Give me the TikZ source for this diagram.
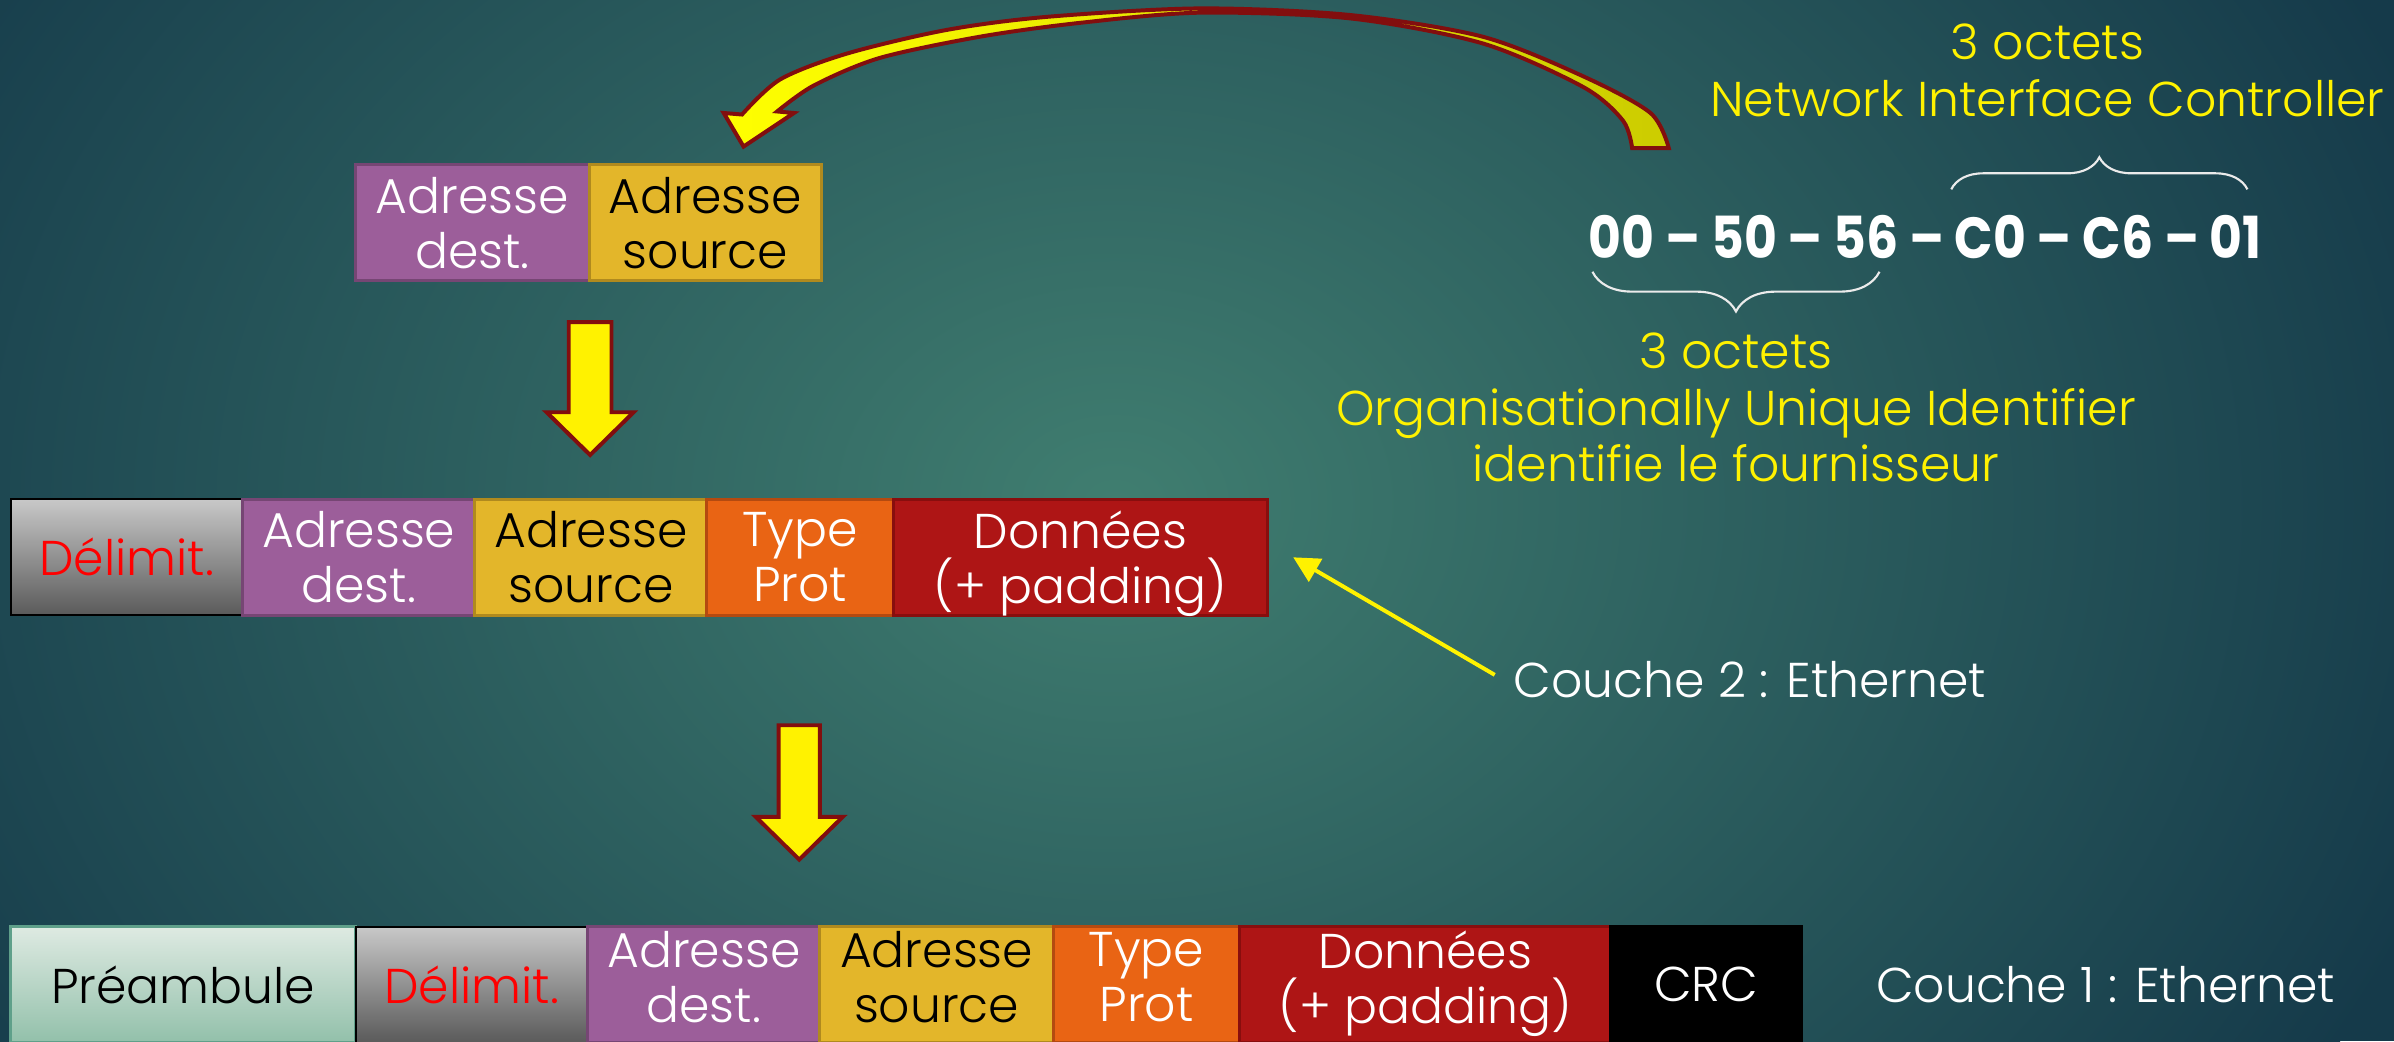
\documentclass[tikz,border=0pt]{standalone}
\usepackage{fontspec}
\setmainfont{Poppins Light}
\newfontfamily\macfont{Poppins}[FakeStretch=0.87]
\usetikzlibrary{arrows.meta,decorations.pathreplacing}
\definecolor{bgin}{RGB}{64,126,112}
\definecolor{bgout}{RGB}{21,58,74}
\definecolor{purp}{RGB}{156,94,154}
\definecolor{purpd}{RGB}{118,70,116}
\definecolor{gold}{RGB}{227,182,42}
\definecolor{goldd}{RGB}{176,138,30}
\definecolor{orng}{RGB}{233,100,20}
\definecolor{orngd}{RGB}{180,74,16}
\definecolor{dred}{RGB}{174,21,21}
\definecolor{dredd}{RGB}{136,14,14}
\definecolor{arrred}{RGB}{130,14,14}
\definecolor{olivey}{RGB}{204,204,0}
\definecolor{mintt}{RGB}{222,234,226}
\definecolor{mintb}{RGB}{146,192,170}
\definecolor{mintd}{RGB}{95,160,138}
\definecolor{greyt}{RGB}{200,200,200}
\definecolor{greyb}{RGB}{90,90,90}
\definecolor{bracecol}{RGB}{235,235,235}
\tikzset{
  cell/.style={inner sep=0pt, minimum height=38pt, align=center, line width=1pt,
    font=\fontsize{16}{18}\selectfont},
  twoline/.style={text depth=0pt},
  lowtwoline/.style={text depth=5pt},
  purpcell/.style={cell, fill=purp, draw=purpd, text=white},
  goldcell/.style={cell, fill=gold, draw=goldd, text=black},
  orngcell/.style={cell, fill=orng, draw=orngd, text=white},
  redcell/.style={cell, fill=dred, draw=dredd, text=white},
  delimcell/.style={cell, top color=greyt, bottom color=greyb, draw=black, line width=0.6pt, text=red},
  precell/.style={cell, top color=mintt, bottom color=mintb, draw=mintd, text=black},
  crccell/.style={cell, fill=black, draw=black, text=white},
  lbl/.style={inner sep=0pt, text=white, font=\fontsize{16}{18}\selectfont},
  ytext/.style={inner sep=0pt, text=yellow, align=center, font=\fontsize{16}{18.5}\selectfont},
  blockarr/.style={fill=yellow, draw=arrred, line width=1.3pt, line join=miter},
  yarrow/.style={draw=yellow, line width=1.3pt, -{Triangle[length=8.5pt,width=8.5pt]}},
  bracestyle/.style={draw=bracecol, line width=0.7pt, decorate},
}
\begin{document}
\begin{tikzpicture}[x=0.5pt,y=-0.5pt]
\useasboundingbox (0,0) rectangle (1568,682);
\clip (0,0) rectangle (1568,682);
% background
\fill[bgout] (0,0) rectangle (1568,682);
\shade[inner color=bgin, outer color=bgout] (730,330) ellipse (920 and 720);

% curved arrow
\draw[left color=yellow, right color=olivey, draw=arrred, line width=1.3pt, line join=miter]
  plot[smooth] coordinates {(1069,97) (1063,79) (1037,57) (971,28.4) (884,12) (786,8.3) (707,15) (642,24) (576,38) (533,56) (509,73)}
  -- (520,74) -- (487,96) -- (474,74) -- (486,75)
  -- plot[smooth] coordinates {(486,75) (511,52) (555,35) (620,19.6) (686,11) (786,5.5) (884,9.8) (971,24) (1037,50) (1081,74) (1093,97)}
  -- cycle;

% top row
\node[purpcell, twoline, minimum width=76.5pt] (dest1) at (309.5,146) {Adresse\\dest.};
\node[goldcell, twoline, minimum width=76pt] (src1) at (462,146) {Adresse\\source};

% down arrow 1
\draw[blockarr] (372.5,211) -- (400.5,211) -- (400.5,270) -- (415,270) -- (386.5,298) -- (358,270) -- (372.5,270) -- cycle;

% middle row
\node[delimcell, minimum width=76pt] (delim2) at (83,365) {Délimit.};
\node[purpcell, twoline, minimum width=76pt] (dest2) at (235,365) {Adresse\\dest.};
\node[goldcell, twoline, minimum width=76pt] (src2) at (387,365) {Adresse\\source};
\node[orngcell, twoline, minimum width=61pt] (type2) at (524,365) {Type\\Prot};
\node[redcell, twoline, minimum width=122.5pt] (data2) at (707.5,365) {Données\\(+ padding)};

% couche 2 label and arrow
\node[lbl, anchor=west] (c2) at (991,445) {Couche 2 : Ethernet};
\coordinate (c2tip) at (847,365);
\draw[yarrow] ([xshift=-6pt,yshift=1.5pt]c2.west) -- (c2tip);

% down arrow 2
\draw[blockarr] (510,475) -- (537,475) -- (537,535) -- (552,535) -- (523.5,563) -- (495,535) -- (510,535) -- cycle;

% bottom row
\node[precell, minimum width=113pt] (pre3) at (120,645) {Préambule};
\node[delimcell, minimum width=76pt] (delim3) at (309,645) {Délimit.};
\node[purpcell, lowtwoline, minimum width=76pt] (dest3) at (461,645) {Adresse\\dest.};
\node[goldcell, lowtwoline, minimum width=76.5pt] (src3) at (613.5,645) {Adresse\\source};
\node[orngcell, lowtwoline, minimum width=61pt] (type3) at (751,645) {Type\\Prot};
\node[redcell, lowtwoline, minimum width=121.5pt] (data3) at (933.5,645) {Données\\(+ padding)};
\node[crccell, minimum width=62.5pt] (crc3) at (1117.5,645) {CRC};
\node[lbl] (c1) at (1379,645) {Couche 1 : Ethernet};

% MAC address
\node[inner sep=0pt, text=white, font=\fontsize{19}{22}\macfont\bfseries] (mac) at (1261,155) {00 – 50 – 56 – C0 – C6 – 01};
\draw[bracestyle, decoration={brace, amplitude=10.5pt}] (1278,124) -- (1472,124);
\draw[bracestyle, decoration={brace, amplitude=13pt}] (1231,178) -- (1043,178);

% yellow texts
\node[ytext] (nic) at (1341,46) {3 octets\\Network Interface Controller};
\node[ytext] (oui) at (1137,267) {3 octets\\Organisationally Unique Identifier\\identifie le fournisseur};
\end{tikzpicture}
\end{document}
